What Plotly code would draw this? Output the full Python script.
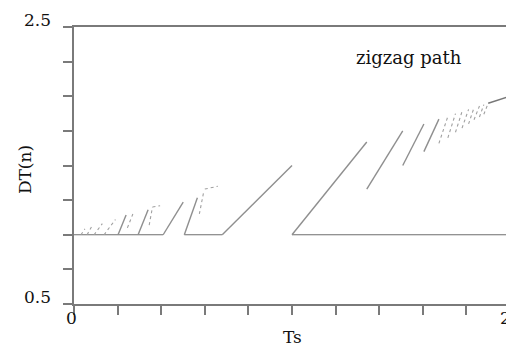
import plotly.graph_objects as go

# ---- data ----
# flat branch DT(n) = 1.0 (start/end Ts)
flat_ts0 = [0.0, 0.506, 1.0]
flat_ts1 = [0.409, 0.68, 2.0]
flat_dt = 1.0

# solid rising branches (start Ts, start DT, end Ts, end DT)
solid_ts0 = [0.68, 1.00, 1.343, 1.508, 1.605, 0.506, 0.409, 0.294, 0.202]
solid_dt0 = [1.00, 1.00, 1.33, 1.50, 1.60, 1.00, 1.00, 1.00, 1.00]
solid_ts1 = [1.00, 1.343, 1.508, 1.605, 1.674, 0.566, 0.501, 0.340, 0.239]
solid_dt1 = [1.50, 1.67, 1.75, 1.80, 1.835, 1.267, 1.236, 1.18, 1.143]

# dotted (sparse point) branches
dot_ts0 = [1.674, 1.715, 1.75, 1.78, 1.81, 1.835, 1.86, 1.88,
           0.575, 0.60, 0.345, 0.36, 0.245, 0.138, 0.092, 0.06, 0.032]
dot_dt0 = [1.66, 1.70, 1.74, 1.77, 1.80, 1.83, 1.85, 1.87,
           1.15, 1.33, 1.07, 1.20, 1.05, 1.00, 1.00, 1.00, 1.00]
dot_ts1 = [1.715, 1.75, 1.78, 1.81, 1.835, 1.86, 1.88, 1.90,
           0.595, 0.66, 0.36, 0.395, 0.27, 0.19, 0.13, 0.08, 0.05]
dot_dt1 = [1.855, 1.875, 1.89, 1.905, 1.918, 1.93, 1.94, 1.95,
           1.31, 1.35, 1.20, 1.21, 1.15, 1.11, 1.08, 1.056, 1.042]

# dense end of the accumulation
dense_ts = [1.90, 2.0]
dense_dt = [1.95, 2.0]

x_range = [0, 2]
y_range = [0.5, 2.5]
x_ticks = [0, 0.2, 0.4, 0.6, 0.8, 1.0, 1.2, 1.4, 1.6, 1.8, 2.0]
y_ticks = [0.5, 0.75, 1.0, 1.25, 1.5, 1.75, 2.0, 2.25, 2.5]


def segs(x0, y0, x1, y1):
    xs, ys = [], []
    for a, b, c, d in zip(x0, y0, x1, y1):
        xs += [a, c, None]
        ys += [b, d, None]
    return xs, ys


fig = go.Figure()

fx, fy = segs(flat_ts0, [flat_dt] * len(flat_ts0), flat_ts1, [flat_dt] * len(flat_ts1))
fig.add_trace(go.Scatter(x=fx, y=fy, mode="lines",
                         line=dict(color="#6e6e6e", width=1.2), hoverinfo="skip"))

sx, sy = segs(solid_ts0, solid_dt0, solid_ts1, solid_dt1)
fig.add_trace(go.Scatter(x=sx, y=sy, mode="lines",
                         line=dict(color="#8f8f8f", width=1.4), hoverinfo="skip"))

dx, dy = segs(dot_ts0, dot_dt0, dot_ts1, dot_dt1)
fig.add_trace(go.Scatter(x=dx, y=dy, mode="lines",
                         line=dict(color="#a0a0a0", width=1.1, dash="dot"), hoverinfo="skip"))

fig.add_trace(go.Scatter(x=dense_ts, y=dense_dt, mode="lines",
                         line=dict(color="#777777", width=1.6), hoverinfo="skip"))

font = dict(family="DejaVu Serif", size=17, color="#111111")

axis_common = dict(showgrid=False, zeroline=False, showline=True, linecolor="#7a7a7a",
                   linewidth=1.5, mirror=True, ticks="outside", ticklen=9,
                   tickcolor="#7a7a7a", tickwidth=1.5, showticklabels=False)

fig.update_xaxes(range=x_range, tickvals=x_ticks, **axis_common)
fig.update_yaxes(range=y_range, tickvals=y_ticks, **axis_common)

annos = [
    dict(text="2.5", x=-0.083, y=1.025),
    dict(text="0.5", x=-0.083, y=0.025),
    dict(text="0", x=-0.005, y=-0.05),
    dict(text="2", x=0.99, y=-0.05),
    dict(text="Ts", x=0.5, y=-0.12),
]
for a in annos:
    fig.add_annotation(xref="paper", yref="paper", x=a["x"], y=a["y"], text=a["text"],
                       showarrow=False, font=font, xanchor="center", yanchor="middle")
fig.add_annotation(xref="paper", yref="paper", x=-0.112, y=0.484, text="DT(n)",
                   textangle=-90, showarrow=False, font=font,
                   xanchor="center", yanchor="middle")
fig.add_annotation(x=1.536, y=2.283, text="zigzag path", showarrow=False,
                   font=dict(family="DejaVu Serif", size=18, color="#111111"),
                   xanchor="center", yanchor="middle")

# page body has an 8px default margin, so the figure is offset to compensate
fig.update_layout(width=514, height=350,
                  margin=dict(l=66, r=12, t=19, b=54, autoexpand=False),
                  paper_bgcolor="white", plot_bgcolor="white", showlegend=False)

fig.write_html("out.html")
